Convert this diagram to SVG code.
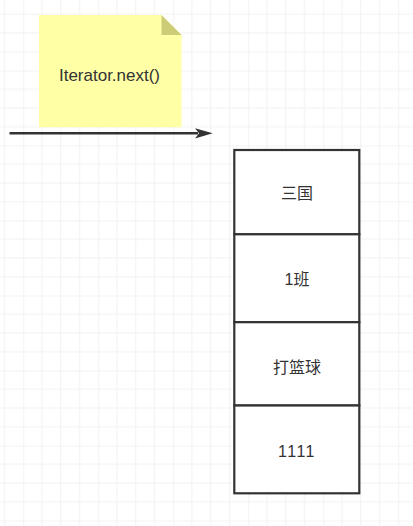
<svg xmlns="http://www.w3.org/2000/svg" width="413" height="526" viewBox="0 0 413 526">
<defs>
<pattern id="grid" patternUnits="userSpaceOnUse" x="23.25" y="70.5" width="75" height="75">
<rect x="18.25" y="0" width="1" height="75" fill="#f1f1f1"/>
<rect x="37" y="0" width="1" height="75" fill="#f1f1f1"/>
<rect x="55.75" y="0" width="1" height="75" fill="#f1f1f1"/>
<rect x="0" y="18.25" width="75" height="1" fill="#f1f1f1"/>
<rect x="0" y="37" width="75" height="1" fill="#f1f1f1"/>
<rect x="0" y="55.75" width="75" height="1" fill="#f1f1f1"/>
<rect x="-0.5" y="0" width="1" height="75" fill="#e6e6e6"/>
<rect x="0" y="-0.5" width="75" height="1" fill="#e6e6e6"/>
</pattern>
<style>
.cell{fill:#ffffff;stroke:#333333;stroke-width:2.2}
.t{font-family:"Liberation Sans","Noto Sans CJK SC",sans-serif;font-size:16px;fill:#333333;text-anchor:middle}
</style>
</defs>
<rect width="413" height="526" fill="#ffffff"/>
<rect width="413" height="526" fill="url(#grid)"/>
<g id="note">
<path d="M39,15 H161.5 L181.5,35 V127.3 H39 Z" fill="#ffffa6"/>
<path d="M161.5,15 L181.5,35 H161.5 Z" fill="#cdcd78"/>
<text class="t" x="109.5" y="80.5" style="font-size:17px">Iterator.next()</text>
</g>
<g id="connectors">
<line x1="9.5" y1="133.3" x2="198" y2="133.3" stroke="#333333" stroke-width="2.4"/>
<path d="M212.7,133.3 L195,128.2 L199,133.3 L195,138.4 Z" fill="#333333"/>
</g>
<g id="row1">
<rect class="cell" x="234.3" y="150" width="125" height="84.3"/>
<text class="t" x="297" y="199">三国</text>
</g>
<g id="row2">
<rect class="cell" x="234.3" y="234.3" width="125" height="87.9"/>
<text class="t" x="297" y="285">1班</text>
</g>
<g id="row3">
<rect class="cell" x="234.3" y="322.2" width="125" height="83.3"/>
<text class="t" x="297" y="373">打篮球</text>
</g>
<g id="row4">
<rect class="cell" x="234.3" y="405.5" width="125" height="87.8"/>
<text class="t" x="297" y="456.5" style="letter-spacing:1.5px">1111</text>
</g>
</svg>
